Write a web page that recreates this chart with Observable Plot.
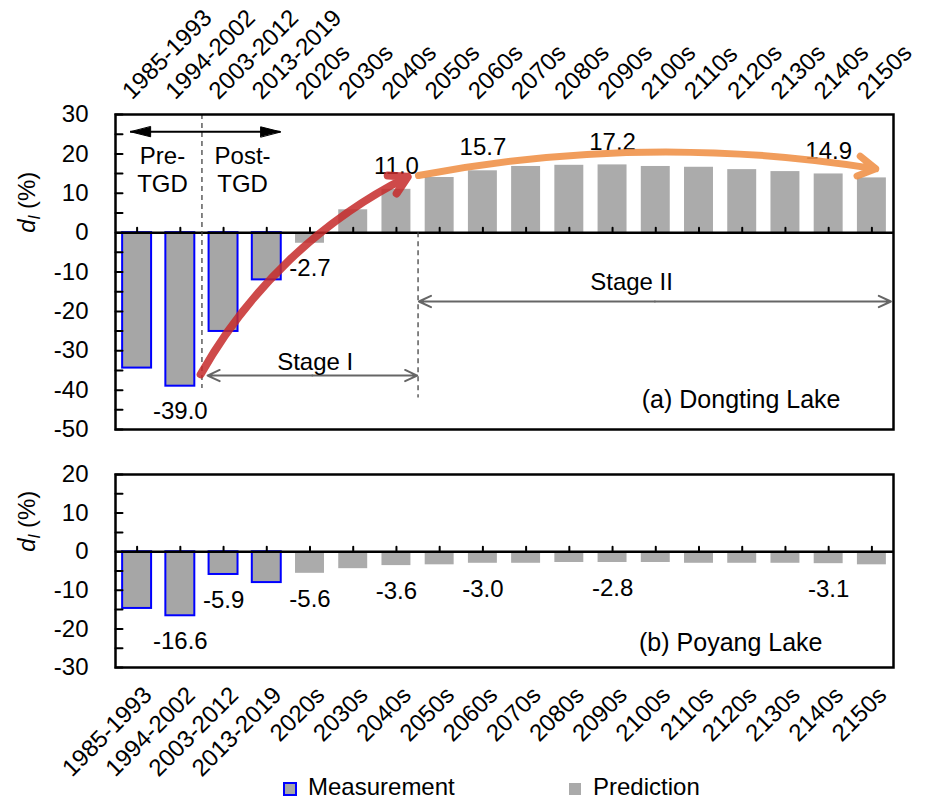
<!DOCTYPE html>
<html><head><meta charset="utf-8">
<script src="https://cdn.jsdelivr.net/npm/d3@7"></script>
<script src="https://cdn.jsdelivr.net/npm/@observablehq/plot@0.6"></script>
<style>
body{margin:0;background:#fff;font-family:"Liberation Sans",Arial,sans-serif;}
#wrap{position:relative;width:931px;height:799px;overflow:hidden;}
#top,#bot{position:absolute;left:0;}
#top{top:0}#bot{top:450px}
#legend{position:absolute;top:775px;left:0;width:931px;height:24px;font-size:24px;line-height:24px;color:#000;}
.item{position:absolute;top:0;white-space:nowrap;}
.sw{position:absolute;box-sizing:border-box;}
</style></head><body>
<div id="wrap"><div id="top"></div><div id="bot"></div>
<div id="legend">
 <span class="sw" style="left:283px;top:7px;width:14px;height:14px;background:#a6a6a6;border:2px solid #0000ff"></span>
 <span class="item" style="left:308px">Measurement</span>
 <span class="sw" style="left:569px;top:8px;width:12px;height:12px;background:#aaaaaa"></span>
 <span class="item" style="left:593px">Prediction</span>
</div></div>
<script>
// ---- data ----
const categories = ["1985-1993","1994-2002","2003-2012","2013-2019","2020s","2030s","2040s","2050s","2060s","2070s","2080s","2090s","2100s","2110s","2120s","2130s","2140s","2150s"];
const dongting = [-34.4,-39.0,-25.1,-12.0,-2.7,5.8,11.0,14.0,15.7,16.8,17.1,17.2,16.8,16.6,16.0,15.5,14.9,13.9];
const poyang = [-14.7,-16.6,-5.9,-8.0,-5.6,-4.4,-3.6,-3.4,-3.0,-3.0,-2.8,-2.8,-2.8,-3.0,-3.0,-3.0,-3.1,-3.4];
const nMeasured = 4;
const dongtingTicks = [30,20,10,0,-10,-20,-30,-40,-50];
const poyangTicks = [20,10,0,-10,-20,-30];
const dongtingLabelIdx = [1,4,6,8,11,16];
const poyangLabelIdx = [1,2,4,6,8,11,16];
// annotations (data coordinates: x = category index, y = %)
const tgdArrow = [{x1:-0.15, x2:3.32, y:25.6}];
const tgdTexts = [{x:0.587, y:16.2, text:"Pre-\nTGD"},{x:2.44, y:16.2, text:"Post-\nTGD"}];
const dividers = [{x:1.5, y1:30, y2:-39.6},{x:6.5, y1:0, y2:-42}];
const stageArrows = [{x1:1.63, x2:6.48, y:-36.3},{x1:6.52, x2:17.44, y:-17.5}];
const stageTexts = [{x:4.12, y:-34.8, text:"Stage I"},{x:11.44, y:-14.5, text:"Stage II"}];
const redTrend = [{x1:1.47, y1:-36.0, x2:6.26, y2:14.2}];
const orangeTrend = [{x1:6.51, y1:14.5, x2:17.09, y2:16.2}];
const yLabelText = "d (%)";

const FONT = '"Liberation Sans", Arial, sans-serif';
const tickShape = {draw(ctx, l){ ctx.moveTo(0,0); ctx.lineTo(0,-l); }};
const headShape = {draw(ctx, l){ ctx.moveTo(0,-l); ctx.lineTo(-5,0); ctx.lineTo(5,0); ctx.closePath(); }};
const fmt = v => v.toFixed(1);

function rowsOf(values){ return values.map((v,i)=>({i, v, cat: categories[i]})); }

function commonMarks(values, domain, ticks){
  const rows = rowsOf(values);
  const minor = d3.range(domain[0], domain[1] + 0.1, 5);
  return [
    Plot.rect(rows.filter(d=>d.i>=nMeasured), {x1: d=>d.i-0.335, x2: d=>d.i+0.335, y1: 0, y2: "v", fill: "#ababab"}),
    Plot.rect(rows.filter(d=>d.i<nMeasured), {x1: d=>d.i-0.335, x2: d=>d.i+0.335, y1: 0, y2: "v", fill: "#a6a6a6", stroke: "#0000ff", strokeWidth: 2}),
    Plot.ruleY([0], {stroke: "black", strokeWidth: 2.5}),
    Plot.vector(rows, {x: "i", y: 0, length: 5, anchor: "start", shape: tickShape, stroke: "black", strokeWidth: 2}),
    Plot.vector(minor, {y: d=>d, frameAnchor: "left", rotate: 90, length: 7, anchor: "start", shape: tickShape, stroke: "black", strokeWidth: 2}),
    Plot.axisY({ticks, tickSize: 0, tickPadding: 27, fontSize: 24, label: null, tickFormat: d => String(d)}),
    Plot.text([0], {y: d=>d, frameAnchor: "left", dx: -88, rotate: -90, text: () => yLabelText, fontSize: 24})
  ];
}

function fixYLabel(svg){
  d3.select(svg).selectAll("text").filter(function(){ return this.textContent === yLabelText; }).each(function(){
    const t = d3.select(this);
    t.text(null);
    t.append("tspan").attr("font-style","italic").text("d");
    t.append("tspan").attr("font-style","italic").attr("font-size","16px").attr("dy","5").text("l");
    t.append("tspan").attr("dy","-5").text(" (%)");
  });
}

// ---- top panel: Dongting ----
const dRows = rowsOf(dongting);
const dLab = dRows.filter(d => dongtingLabelIdx.includes(d.i));
const topPlot = Plot.plot({
  width: 931, height: 450,
  marginTop: 114, marginBottom: 21, marginLeft: 115, marginRight: 38,
  style: {fontFamily: FONT, fontSize: "24px", background: "transparent", overflow: "visible", color: "black"},
  x: {domain: [-0.5, 17.5], axis: null},
  y: {domain: [-50, 30]},
  marks: [
    ...commonMarks(dongting, [-50, 30], dongtingTicks),
    Plot.ruleX(dividers, {x: "x", y1: "y1", y2: "y2", stroke: "#444", strokeWidth: 1.3, strokeDasharray: "5,4"}),
    Plot.ruleY(tgdArrow, {y: "y", x1: "x1", x2: "x2", stroke: "black", strokeWidth: 2}),
    Plot.vector([{x: tgdArrow[0].x1, r: -90},{x: tgdArrow[0].x2, r: 90}], {x: "x", y: tgdArrow[0].y, rotate: "r", length: 20, anchor: "end", shape: headShape, fill: "black", stroke: "black", strokeWidth: 1}),
    Plot.text(tgdTexts, {x: "x", y: "y", text: "text", fontSize: 24, lineHeight: 1.2, textAnchor: "middle"}),
    Plot.arrow(stageArrows, {x1: d => (d.x1+d.x2)/2, x2: "x1", y1: "y", y2: "y", stroke: "#666", strokeWidth: 2, headLength: 10, headAngle: 50}),
    Plot.arrow(stageArrows, {x1: d => (d.x1+d.x2)/2, x2: "x2", y1: "y", y2: "y", stroke: "#666", strokeWidth: 2, headLength: 10, headAngle: 50}),
    Plot.text(stageTexts, {x: "x", y: "y", text: "text", fontSize: 24, lineAnchor: "bottom"}),
    Plot.text(dLab.filter(d=>d.v<0), {x: "i", y: "v", text: d => fmt(d.v), dy: 25, fontSize: 24}),
    Plot.text(dLab.filter(d=>d.v>=0), {x: "i", y: "v", text: d => fmt(d.v), dy: -23, fontSize: 24}),
    Plot.arrow(redTrend, {x1: "x1", y1: "y1", x2: "x2", y2: "y2", bend: 17, stroke: "#c62a2a", strokeOpacity: 0.85, strokeWidth: 8, headLength: 3.75, headAngle: 60}),
    Plot.arrow(orangeTrend, {x1: "x1", y1: "y1", x2: "x2", y2: "y2", bend: 10, stroke: "#f0924a", strokeOpacity: 0.9, strokeWidth: 7, headLength: 4.3, headAngle: 60}),
    Plot.text(categories, {x: (d,i) => i, frameAnchor: "top", rotate: -45, textAnchor: "start", lineAnchor: "bottom", dx: -5, dy: -14, fontSize: 24}),
    Plot.text(["(a) Dongting Lake"], {frameAnchor: "bottom-right", textAnchor: "end", lineAnchor: "bottom", dx: -53, dy: -22, fontSize: 25}),
    Plot.frame({stroke: "black", strokeWidth: 2.5})
  ]
});
fixYLabel(topPlot);
document.getElementById("top").appendChild(topPlot);

// ---- bottom panel: Poyang ----
const pRows = rowsOf(poyang);
const pLab = pRows.filter(d => poyangLabelIdx.includes(d.i));
const botPlot = Plot.plot({
  width: 931, height: 330,
  marginTop: 24, marginBottom: 113, marginLeft: 115, marginRight: 38,
  style: {fontFamily: FONT, fontSize: "24px", background: "transparent", overflow: "visible", color: "black"},
  x: {domain: [-0.5, 17.5], axis: null},
  y: {domain: [-30, 20]},
  marks: [
    ...commonMarks(poyang, [-30, 20], poyangTicks),
    Plot.text(pLab, {x: "i", y: "v", text: d => fmt(d.v), dy: 26, fontSize: 24}),
    Plot.text(categories, {x: (d,i) => i, frameAnchor: "bottom", rotate: -45, textAnchor: "end", lineAnchor: "top", dx: 4, dy: 17, fontSize: 24}),
    Plot.text(["(b) Poyang Lake"], {frameAnchor: "bottom-right", textAnchor: "end", lineAnchor: "bottom", dx: -71, dy: -17, fontSize: 25}),
    Plot.frame({stroke: "black", strokeWidth: 2.5})
  ]
});
fixYLabel(botPlot);
document.getElementById("bot").appendChild(botPlot);
</script>
</body></html>
